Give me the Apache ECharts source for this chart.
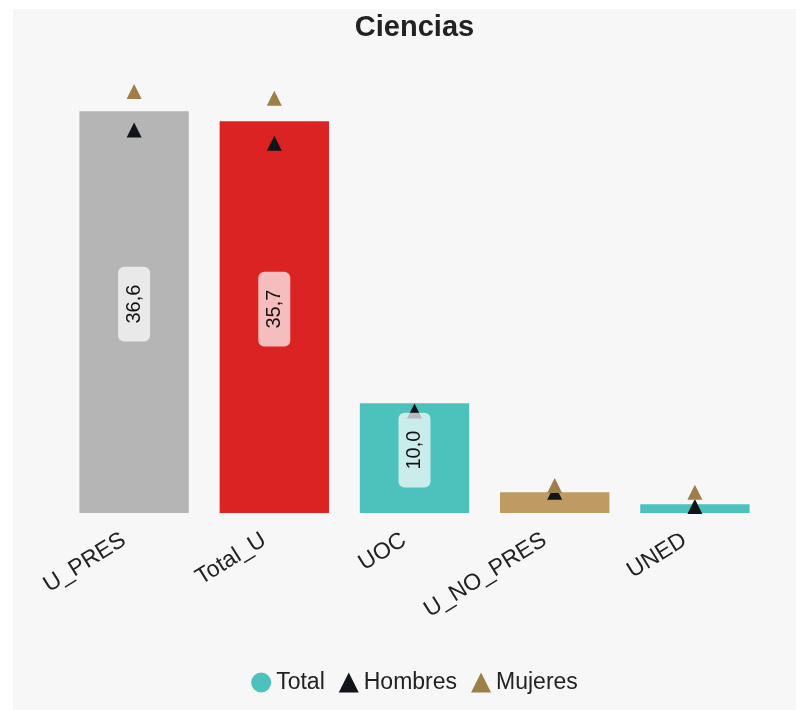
<!DOCTYPE html>
<html>
<head>
<meta charset="utf-8">
<script src="https://cdn.jsdelivr.net/npm/echarts@6/dist/echarts.min.js"></script>
<style>
html,body{margin:0;padding:0;background:#ffffff;overflow:hidden;width:796px;height:710px;}
#chart{position:absolute;left:13px;top:9px;width:803px;height:701px;background:#f7f7f7;}
</style>
</head>
<body>
<div id="chart"></div>
<script>
const categories = ['U_PRES', 'Total_U', 'UOC', 'U_NO_PRES', 'UNED'];
const totalValues = [36.6, 35.7, 10.0, 1.9, 0.8];
const hombresValues = [34.9, 33.7, 9.3, 1.9, 0.6];
const mujeresValues = [38.4, 37.8, null, 2.5, 1.9];
const barColors = ['#b5b5b5', '#dc2323', '#4dc2bd', '#bd9b62', '#4dc2bd'];
const seriesNames = ['Total', 'Hombres', 'Mujeres'];

const chart = echarts.init(document.getElementById('chart'));
const fmt = v => v.toFixed(1).replace('.', ',');
chart.setOption({
  animation: false,
  title: {
    text: 'Ciencias', left: 'center', top: -1,
    textStyle: {fontSize: 29, fontWeight: 'bold', color: '#222', fontFamily: 'Liberation Sans'}
  },
  legend: {
    bottom: 11, left: 'center', itemGap: 14, itemWidth: 20, itemHeight: 20,
    textStyle: {fontSize: 23, color: '#222', fontFamily: 'Liberation Sans', padding: [0, 0, 0, 0]},
    data: [
      {name: 'Total', icon: 'circle', itemStyle: {color: '#4dc2bd'}},
      {name: 'Hombres', icon: 'triangle', itemStyle: {color: '#111418'}},
      {name: 'Mujeres', icon: 'triangle', itemStyle: {color: '#9e7f4a'}}
    ]
  },
  grid: {left: 51, right: 51, top: 65, bottom: 197},
  xAxis: {
    type: 'category', data: categories,
    axisLine: {show: false}, axisTick: {show: false},
    axisLabel: {rotate: 32, fontSize: 23, color: '#222', margin: 19, padding: [0, 12, 0, 0],
                fontFamily: 'Liberation Sans', interval: 0}
  },
  yAxis: {type: 'value', min: 0, max: 40, show: false, splitLine: {show: false}},
  series: [
    {
      name: seriesNames[0], type: 'bar', barCategoryGap: '22%',
      data: totalValues.map((v, i) => ({value: v, itemStyle: {color: barColors[i]}})),
      z: 1
    },
    {
      name: seriesNames[1], type: 'scatter', symbol: 'triangle', symbolSize: 15,
      data: hombresValues, itemStyle: {color: '#111418', opacity: 1}, z: 2
    },
    {
      name: seriesNames[2], type: 'scatter', symbol: 'triangle', symbolSize: 15,
      data: mujeresValues, itemStyle: {color: '#9e7f4a', opacity: 1}, z: 3
    },
    {
      name: 'TotalLabels', type: 'bar', barGap: '-100%', barCategoryGap: '22%',
      silent: true, z: 4,
      itemStyle: {color: 'rgba(0,0,0,0)'},
      data: totalValues.map(v => ({value: v, label: {show: v >= 5}})),
      label: {
        show: true, position: 'inside', rotate: 90, offset: [8, 0],
        formatter: p => fmt(p.value),
        fontSize: 20, color: '#111', fontFamily: 'Liberation Sans',
        backgroundColor: 'rgba(255,255,255,0.7)', borderRadius: 6, padding: [6, 18]
      }
    }
  ]
});
</script>
</body>
</html>
